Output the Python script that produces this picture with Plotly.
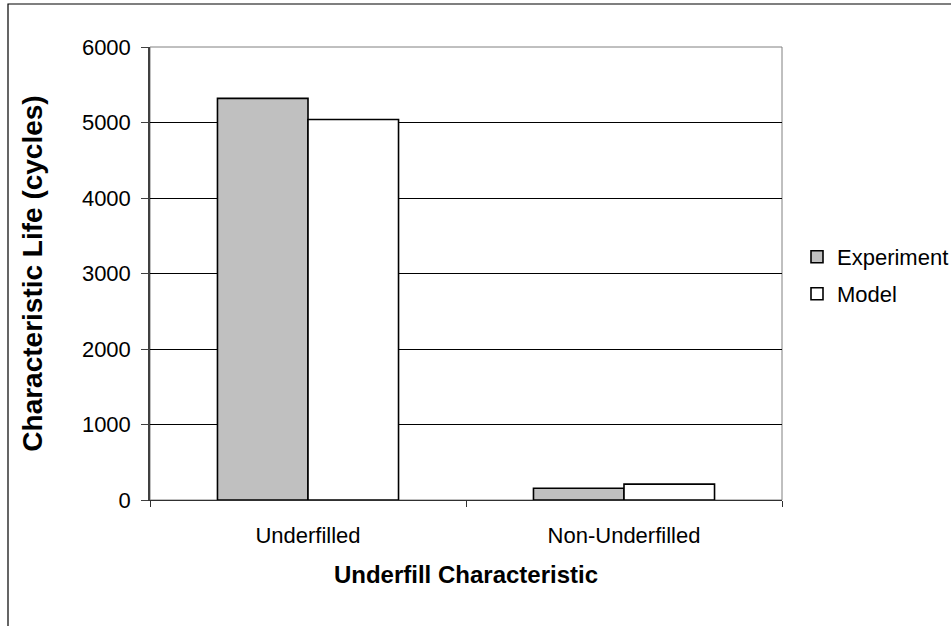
import plotly.graph_objects as go

# Characteristic life data
categories = ["Underfilled", "Non-Underfilled"]
experiment = [5320, 155]
model = [5040, 210]
y_ticks = [0, 1000, 2000, 3000, 4000, 5000, 6000]

FONT = "Liberation Sans, Arial, sans-serif"

fig = go.Figure()
fig.add_trace(go.Bar(
    x=categories, y=experiment, name="Experiment",
    marker=dict(color="#c0c0c0", line=dict(color="black", width=1.6)),
    legend="legend",
))
fig.add_trace(go.Bar(
    x=categories, y=model, name="Model",
    marker=dict(color="white", line=dict(color="black", width=1.6)),
    legend="legend2",
))

W, H = 951, 626
L, R, T, B = 150, 169, 47, 126
pw = W - L - R
ph = H - T - B


def px_x(v):
    return (v - L) / pw


def px_y(v):
    return (H - B - v) / ph


fig.update_layout(
    width=W, height=H,
    margin=dict(l=L, r=R, t=T, b=B, pad=0, autoexpand=False),
    paper_bgcolor="white", plot_bgcolor="white",
    font=dict(family=FONT, size=22, color="black"),
    barmode="group", bargap=0.427, bargroupgap=0,
    showlegend=True,
    legend=dict(x=px_x(797), y=px_y(257), xanchor="left", yanchor="middle",
                font=dict(size=22), bgcolor="rgba(0,0,0,0)"),
    legend2=dict(x=px_x(797), y=px_y(294), xanchor="left", yanchor="middle",
                 font=dict(size=22), bgcolor="rgba(0,0,0,0)"),
    shapes=[
        # plot-area border
        dict(type="rect", xref="paper", yref="paper", x0=0, y0=0, x1=1, y1=1,
             line=dict(color="#808080", width=1), layer="below"),
        # outer chart frame
        dict(type="rect", xref="paper", yref="paper",
             x0=px_x(8), y0=-0.5, x1=1.5, y1=px_y(4),
             line=dict(color="black", width=1.2), layer="below"),
    ],
)

fig.update_xaxes(
    showline=True, linecolor="#303030", linewidth=1,
    ticks="outside", ticklen=6, tickcolor="#303030", tickson="boundaries",
    ticklabelstandoff=16,
    tickfont=dict(size=22),
    showgrid=False, zeroline=False, automargin=False,
    title=dict(text="<b>Underfill Characteristic</b>", font=dict(size=24), standoff=18),
)
fig.update_yaxes(
    range=[0, 6000], tickvals=y_ticks, ticktext=[str(v) for v in y_ticks],
    showline=True, linecolor="#404040", linewidth=1.5,
    ticks="outside", ticklen=7, tickcolor="#404040",
    ticklabelstandoff=6,
    tickfont=dict(size=22),
    showgrid=True, gridcolor="black", gridwidth=1, zeroline=False, automargin=False,
    title=dict(text="<b>Characteristic Life (cycles)</b>", font=dict(size=28), standoff=31),
)

fig.write_html("out.html")
